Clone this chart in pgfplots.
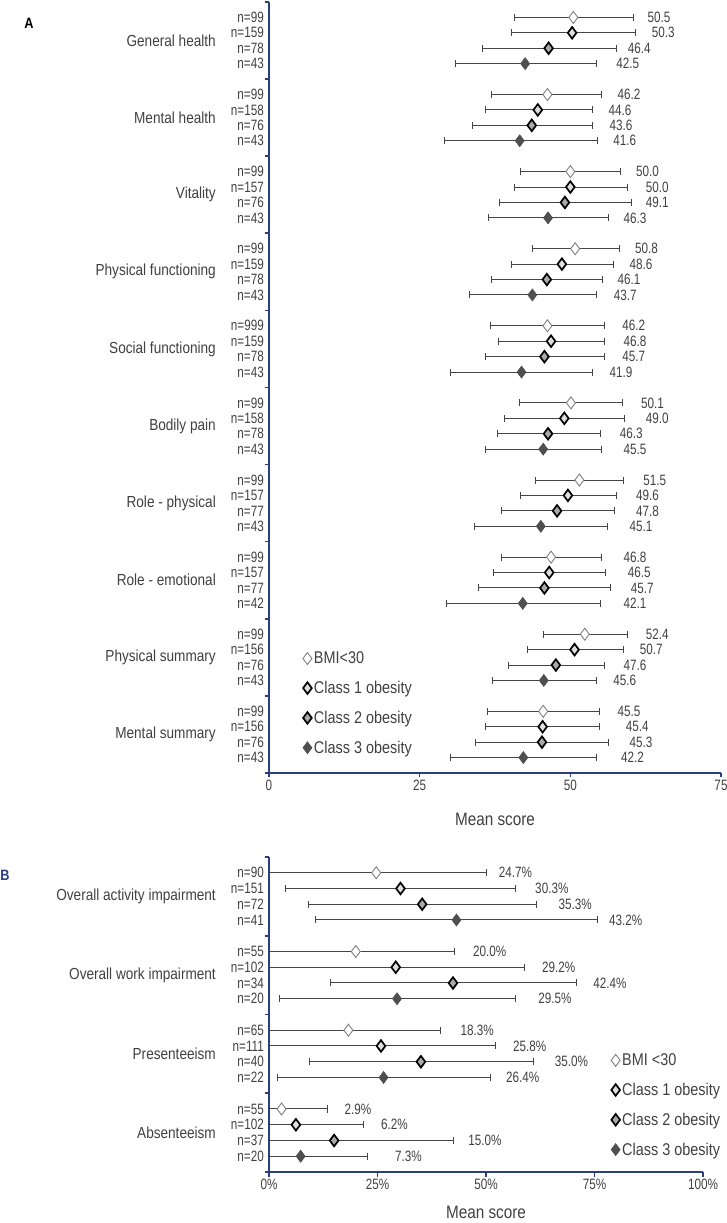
\documentclass[border=0pt]{standalone}
\usepackage{pgfplots}
\pgfplotsset{compat=1.18}
\usepackage{pgfplotstable}
\usepackage{fontspec}
\setmainfont{Liberation Sans}[FakeStretch=0.85]
\newfontfamily\numfont{Liberation Sans}[FakeStretch=0.78]

\definecolor{axisblue}{HTML}{2A3E80}
\definecolor{txt}{HTML}{404040}
\definecolor{ci}{HTML}{454545}
\definecolor{bmiedge}{HTML}{808080}
\definecolor{clsone}{HTML}{DEDEDE}
\definecolor{clstwo}{HTML}{A9A9A9}
\definecolor{clsthree}{HTML}{4F4F4F}

\newcommand\numlab{\numfont\fontsize{15}{15}\selectfont}
\newcommand\catlab{\fontsize{16}{16}\selectfont}

% Panel A (SF-36): row position, mean, CI below, CI above, label position
\pgfplotstableread{
y  m    em   ep   lx
49 50.5 9.8  9.9  62.8
44 46.2 9.2  8.9  57.8
39 50.0 8.2  8.4  60.9
34 50.8 7.1  7.3  60.7
29 46.2 9.4  9.5  58.6
24 50.1 8.5  8.5  61.7
19 51.5 7.2  7.4  62.1
14 46.8 8.3  8.4  58.8
9  52.4 6.8  7.1  62.5
4  45.5 9.2  9.4  57.8
}\sfBMI
\pgfplotstableread{
y  m    em   ep   lx
48 50.3 10.1 10.5 63.5
43 44.6 8.7  9.0  56.3
38 50.0 9.3  9.5  62.5
33 48.6 8.4  8.6  59.8
28 46.8 8.8  8.9  58.8
23 49.0 9.9  10.0 62.5
18 49.6 7.8  8.0  60.9
13 46.5 9.3  9.4  59.5
8  50.7 7.8  8.1  61.5
3  45.4 9.4  9.5  59.2
}\sfOne
\pgfplotstableread{
y  m    em   ep   lx
47 46.4 10.9 11.2 59.5
42 43.6 9.8  10.0 56.5
37 49.1 10.9 11.0 62.5
32 46.1 9.1  9.3  57.8
27 45.7 9.8  10.0 58.6
22 46.3 8.4  8.7  58.2
17 47.8 9.3  9.6  60.9
12 45.7 10.9 11.0 60.0
7  47.6 7.8  8.0  58.8
2  45.3 11.1 11.0 59.8
}\sfTwo
\pgfplotstableread{
y  m    em   ep   lx
46 42.5 11.5 11.9 57.6
41 41.6 12.5 12.9 57.1
36 46.3 9.8  10.0 58.8
31 43.7 10.5 10.7 57.2
26 41.9 11.8 11.8 56.5
21 45.5 9.5  9.6  58.8
16 45.1 11.0 11.1 59.8
11 42.1 12.6 12.9 58.8
6  45.6 8.5  8.8  57.1
1  42.2 12.1 12.2 58.4
}\sfThree

% Panel B (WPAI, percent)
\pgfplotstableread{
y  m    em   ep   lx
19 24.7 24.7 25.3 52.9
14 20.0 20.0 22.7 47.0
9  18.3 18.3 21.2 44.1
4  2.9  2.9  10.6 17.4
}\wpBMI
\pgfplotstableread{
y  m    em   ep   lx
18 30.3 26.6 26.5 61.3
13 29.2 29.2 29.7 62.9
8  25.8 25.8 26.4 56.2
3  6.2  6.2  15.5 25.8
}\wpOne
\pgfplotstableread{
y  m    em   ep   lx
17 35.3 26.2 26.3 66.7
12 42.4 28.3 28.5 74.7
7  35.0 25.6 25.9 65.8
2  15.0 15.0 27.6 45.9
}\wpTwo
\pgfplotstableread{
y  m    em   ep   lx
16 43.2 32.4 32.6 78.3
11 29.5 27.1 27.3 62.0
6  26.4 24.5 24.7 54.6
1  7.3  7.3  15.5 29.0
}\wpThree

\tikzset{grouplab/.style={anchor=east, xshift=-53pt, font=\catlab, text=txt, inner sep=0pt}}

\pgfplotsset{
  panel/.style={
    scale only axis, clip=false,
    axis x line*=bottom, axis y line*=left,
    axis line style={axisblue, line width=2pt},
    tick align=outside, major tick length=4.5pt,
    tick style={axisblue, line width=1.6pt},
    yticklabels={},
    extra y tick style={major tick length=0pt, tick style={draw=none},
      yticklabel style={anchor=east, inner sep=0pt, xshift=-5pt}},
    tick label style={font=\numlab, text=txt},
    xticklabel style={anchor=center, yshift=-8pt},
    xlabel style={font=\fontsize{18}{18}\selectfont, text=txt,
      at={(axis description cs:0.5,0)}, anchor=center, yshift=-46pt},
    legend cell align=left,
    legend style={draw=none, fill=none, row sep=12pt, inner sep=0pt,
      font=\fontsize{17}{17}\selectfont, text=txt,
      nodes={inner sep=2pt}},
  },
  ser/.style={only marks, mark=diamond*,
    error bars/x dir=both, error bars/x explicit,
    error bars/error bar style={ci, line width=1pt},
    error bars/error mark options={ci, line width=1pt, mark size=3.5pt, rotate=90}},
  sBMI/.style={ser, fill=white, draw=bmiedge, mark size=6pt,
    mark options={fill=white, draw=bmiedge, line width=0.9pt}},
  sOne/.style={ser, fill=clsone, draw=black, mark size=5.8pt,
    mark options={fill=clsone, draw=black, line width=1.7pt}},
  sTwo/.style={ser, fill=clstwo, draw=black, mark size=5.8pt,
    mark options={fill=clstwo, draw=black, line width=1.7pt}},
  sThree/.style={ser, fill=clsthree, draw=clsthree, mark size=6pt,
    mark options={fill=clsthree, draw=clsthree, line width=0.6pt}},
  vals/.style={draw=none, mark=none, forget plot, nodes near coords,
    point meta=explicit symbolic,
    every node near coord/.append style={anchor=west, inner sep=0pt, font=\numlab, text=txt}},
}

\begin{document}
\begin{tikzpicture}
\path[use as bounding box] (0,0) rectangle (727pt,1223pt);
\node[font=\bfseries\fontsize{15}{15}\selectfont] at (29pt,1200pt) {A};
\node[font=\bfseries\fontsize{15}{15}\selectfont, text=axisblue] at (5pt,348pt) {B};

\begin{axis}[panel,
  at={(269pt,450pt)}, anchor=south west,
  width=452pt, height=771pt,
  xmin=0, xmax=75, ymin=0, ymax=50,
  xtick={0,25,50,75}, xticklabels={0,25,50,75},
  ytick={0,5,...,50},
  extra y ticks={49,48,47,46,44,43,42,41,39,38,37,36,34,33,32,31,29,28,27,26,24,23,22,21,19,18,17,16,14,13,12,11,9,8,7,6,4,3,2,1},
  extra y tick labels={n=99,n=159,n=78,n=43, n=99,n=158,n=76,n=43, n=99,n=157,n=76,n=43, n=99,n=159,n=78,n=43, n=999,n=159,n=78,n=43, n=99,n=158,n=78,n=43, n=99,n=157,n=77,n=43, n=99,n=157,n=77,n=42, n=99,n=156,n=76,n=43, n=99,n=156,n=76,n=43},
  xlabel={Mean score},
  legend style={at={(axis cs:5.6,8.0)}, anchor=north west},
]
\addplot[sBMI] table[x=m, y=y, x error minus=em, x error plus=ep] {\sfBMI};
\addlegendentry{BMI<30}
\addplot[sOne] table[x=m, y=y, x error minus=em, x error plus=ep] {\sfOne};
\addlegendentry{Class 1 obesity}
\addplot[sTwo] table[x=m, y=y, x error minus=em, x error plus=ep] {\sfTwo};
\addlegendentry{Class 2 obesity}
\addplot[sThree] table[x=m, y=y, x error minus=em, x error plus=ep] {\sfThree};
\addlegendentry{Class 3 obesity}
\addplot[vals] table[x=lx, y=y, meta=m] {\sfBMI};
\addplot[vals] table[x=lx, y=y, meta=m] {\sfOne};
\addplot[vals] table[x=lx, y=y, meta=m] {\sfTwo};
\addplot[vals] table[x=lx, y=y, meta=m] {\sfThree};
\node[grouplab] at (axis cs:0,47.5) {General health};
\node[grouplab] at (axis cs:0,42.5) {Mental health};
\node[grouplab] at (axis cs:0,37.5) {Vitality};
\node[grouplab] at (axis cs:0,32.5) {Physical functioning};
\node[grouplab] at (axis cs:0,27.5) {Social functioning};
\node[grouplab] at (axis cs:0,22.5) {Bodily pain};
\node[grouplab] at (axis cs:0,17.5) {Role - physical};
\node[grouplab] at (axis cs:0,12.5) {Role - emotional};
\node[grouplab] at (axis cs:0,7.5) {Physical summary};
\node[grouplab] at (axis cs:0,2.5) {Mental summary};
\end{axis}

\begin{axis}[panel,
  at={(269pt,51pt)}, anchor=south west,
  width=434pt, height=315pt,
  xmin=0, xmax=100, ymin=0, ymax=20,
  xtick={0,25,50,75,100}, xticklabels={0\%,25\%,50\%,75\%,100\%},
  ytick={0,5,...,20},
  extra y ticks={19,18,17,16,14,13,12,11,9,8,7,6,4,3,2,1},
  extra y tick labels={n=90,n=151,n=72,n=41, n=55,n=102,n=34,n=20, n=65,n=111,n=40,n=22, n=55,n=102,n=37,n=20},
  xlabel={Mean score},
  xlabel style={yshift=6pt},
  legend style={at={(axis cs:78.8,7.65)}, anchor=north west},
  vals/.append style={nodes near coords={\pgfplotspointmeta\%}},
]
\addplot[sBMI] table[x=m, y=y, x error minus=em, x error plus=ep] {\wpBMI};
\addlegendentry{BMI <30}
\addplot[sOne] table[x=m, y=y, x error minus=em, x error plus=ep] {\wpOne};
\addlegendentry{Class 1 obesity}
\addplot[sTwo] table[x=m, y=y, x error minus=em, x error plus=ep] {\wpTwo};
\addlegendentry{Class 2 obesity}
\addplot[sThree] table[x=m, y=y, x error minus=em, x error plus=ep] {\wpThree};
\addlegendentry{Class 3 obesity}
\addplot[vals] table[x=lx, y=y, meta=m] {\wpBMI};
\addplot[vals] table[x=lx, y=y, meta=m] {\wpOne};
\addplot[vals] table[x=lx, y=y, meta=m] {\wpTwo};
\addplot[vals] table[x=lx, y=y, meta=m] {\wpThree};
\node[grouplab] at (axis cs:0,17.5) {Overall activity impairment};
\node[grouplab] at (axis cs:0,12.5) {Overall work impairment};
\node[grouplab] at (axis cs:0,7.5) {Presenteeism};
\node[grouplab] at (axis cs:0,2.5) {Absenteeism};
\end{axis}
\end{tikzpicture}
\end{document}
